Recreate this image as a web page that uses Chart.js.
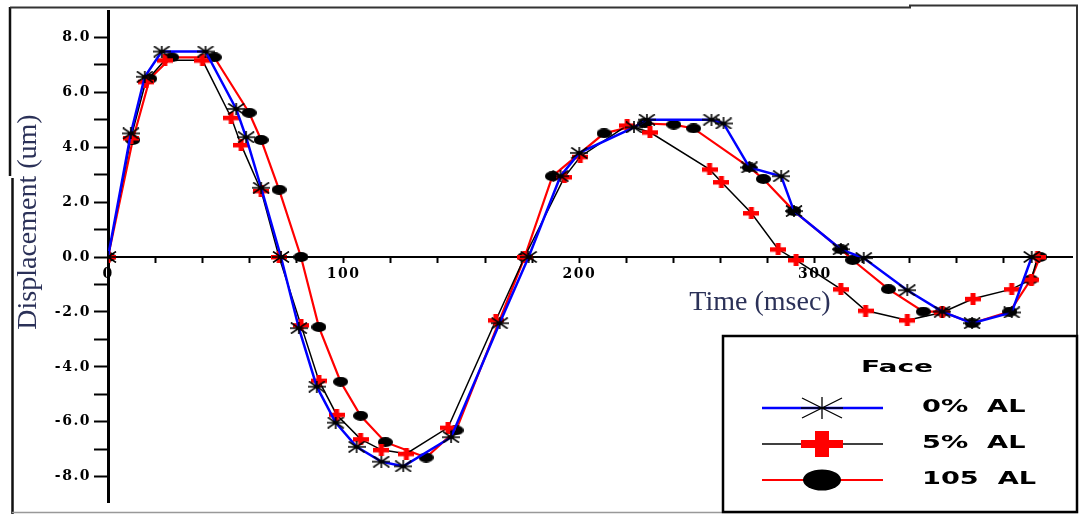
<!DOCTYPE html>
<html><head><meta charset="utf-8">
<script src="https://cdn.jsdelivr.net/npm/chart.js@4.4.1/dist/chart.umd.min.js"></script>
<style>html,body{margin:0;padding:0;background:#fff;} canvas{display:block;}</style>
</head><body>
<canvas id="c" width="1081" height="514"></canvas>
<script>
// ---------- data ----------
const seriesLabels = ['0% AL', '5% AL', '105 AL'];
const legendTitle = 'Face';
const xTitle = 'Time (msec)';
const yTitle = 'Displacement (um)';

const time0 = [0, 9.7, 15.6, 22.8, 41.4, 54.4, 58.6, 65.0, 73.4, 81.0, 88.6, 96.6, 105.5, 116.0, 125.3, 145.6, 166.2, 178.5, 192.0, 200.0, 223.2, 228.7, 256.1, 261.2, 272.2, 285.7, 291.1, 311.0, 320.7, 339.2, 354.0, 366.7, 383.5, 392.0];
const disp0 = [0, 4.50, 6.56, 7.48, 7.48, 5.39, 4.36, 2.52, 0, -2.59, -4.72, -6.03, -6.91, -7.45, -7.62, -6.56, -2.41, 0, 2.94, 3.79, 4.72, 5.00, 5.00, 4.86, 3.26, 2.94, 1.67, 0.28, -0.04, -1.21, -1.99, -2.41, -2.02, 0];

const time5 = [0, 9.7, 16.0, 24.1, 40.1, 52.3, 56.5, 65.0, 72.6, 81.9, 89.5, 97.0, 107.2, 116.0, 126.6, 144.3, 164.6, 176.8, 193.7, 200.4, 220.3, 230.0, 255.3, 260.3, 273.0, 284.4, 292.0, 311.0, 321.5, 339.2, 354.0, 367.1, 383.5, 391.8, 394.5];
const disp5 = [0, 4.33, 6.38, 7.16, 7.16, 5.07, 4.08, 2.41, 0, -2.48, -4.50, -5.74, -6.63, -7.02, -7.16, -6.21, -2.30, 0, 2.91, 3.65, 4.79, 4.54, 3.19, 2.73, 1.60, 0.28, -0.11, -1.17, -1.95, -2.30, -2.02, -1.52, -1.17, -0.82, 0];

const time105 = [0, 10.5, 17.7, 27.0, 45.1, 59.9, 65.0, 72.6, 81.9, 89.5, 98.7, 107.2, 117.7, 135.0, 147.7, 176.8, 188.6, 210.5, 227.8, 240.1, 248.5, 272.2, 278.1, 291.1, 311.0, 316.0, 331.2, 346.0, 354.0, 366.7, 382.7, 391.6, 395.5];
const disp105 = [0, 4.26, 6.49, 7.27, 7.27, 5.25, 4.26, 2.45, 0, -2.55, -4.54, -5.78, -6.74, -7.30, -6.31, 0, 2.94, 4.50, 4.86, 4.82, 4.68, 3.26, 2.84, 1.67, 0.28, -0.11, -1.17, -1.99, -1.99, -2.41, -1.99, -0.82, 0];

const xTickLabels = [0, 100, 200, 300, 400];
const yTickLabels = [-8, -6, -4, -2, 0, 2, 4, 6, 8];

// ---------- marker images ----------
function makeCanvas(w, h, fn) {
  const c = document.createElement('canvas'); c.width = w; c.height = h;
  fn(c.getContext('2d')); return c;
}
const starImg = makeCanvas(18, 12, g => {
  g.strokeStyle = '#000'; g.lineWidth = 1.6;
  g.beginPath();
  g.moveTo(0, 6); g.lineTo(18, 6);
  g.moveTo(9, 0); g.lineTo(9, 12);
  g.moveTo(1, 0.5); g.lineTo(17, 11.5);
  g.moveTo(1, 11.5); g.lineTo(17, 0.5);
  g.stroke();
});
const crossImg = makeCanvas(16, 12, g => {
  g.fillStyle = '#ff0000';
  g.fillRect(0, 4, 16, 4.5);
  g.fillRect(5.5, 0, 5, 12);
});
const circImg = makeCanvas(15, 10, g => {
  g.fillStyle = '#000';
  g.beginPath(); g.ellipse(7.5, 5, 7.5, 5, 0, 0, Math.PI * 2); g.fill();
});

function pts(t, v) { return t.map((x, i) => ({x: x, y: v[i]})); }

const markerKinds = ['star', 'cross', 'circle'];

// ---------- plugin: frame, titles, legend ----------
function stretchedText(ctx, text, x, y, font, sx, align) {
  ctx.save();
  ctx.translate(x, y); ctx.scale(sx, 1);
  ctx.font = font; ctx.textAlign = align; ctx.textBaseline = 'middle';
  ctx.fillStyle = '#000';
  ctx.fillText(text, 0, 0);
  ctx.restore();
}

const decor = {
  id: 'decor',
  beforeDraw(chart) {
    chart.ctx.letterSpacing = '1.5px';
  },
  afterDraw(chart) {
    const ctx = chart.ctx;
    ctx.save();
    ctx.letterSpacing = '0px';
    // outer frame
    ctx.strokeStyle = '#111'; ctx.lineWidth = 2.5;
    ctx.beginPath();
    ctx.moveTo(10, 7); ctx.lineTo(10, 176);
    ctx.moveTo(12.5, 178); ctx.lineTo(12.5, 514);
    ctx.stroke();
    ctx.lineWidth = 2; ctx.strokeStyle = '#333';
    ctx.beginPath();
    ctx.moveTo(10, 7.5); ctx.lineTo(910, 7.5); ctx.lineTo(910, 5.5); ctx.lineTo(1077, 5.5); ctx.lineTo(1077, 512);
    ctx.stroke();
    ctx.strokeStyle = '#999'; ctx.lineWidth = 1.5;
    ctx.beginPath(); ctx.moveTo(12, 512.5); ctx.lineTo(1078, 512.5); ctx.stroke();

    // axis titles
    ctx.fillStyle = '#2b3158';
    ctx.font = '28px "Liberation Serif"';
    ctx.textBaseline = 'middle';
    ctx.textAlign = 'center';
    ctx.fillText(xTitle, 760, 303);
    ctx.save();
    ctx.translate(29, 222); ctx.rotate(-Math.PI / 2);
    ctx.fillText(yTitle, 0, 0);
    ctx.restore();

    // legend box
    ctx.fillStyle = '#fff';
    ctx.fillRect(723, 336, 354, 176);
    ctx.strokeStyle = '#000'; ctx.lineWidth = 2.5;
    ctx.strokeRect(723, 336, 354, 176);
    stretchedText(ctx, legendTitle, 897, 368, 'bold 16px "DejaVu Sans"', 1.75, 'center');
    const rows = [408, 444, 480];
    chart.data.datasets.forEach((ds, i) => {
      const y = rows[i];
      ctx.strokeStyle = ds.borderColor; ctx.lineWidth = ds.borderWidth;
      ctx.beginPath(); ctx.moveTo(762, y); ctx.lineTo(883, y); ctx.stroke();
      const cx = 822;
      const kind = markerKinds[i];
      if (kind === 'star') {
        ctx.strokeStyle = '#000'; ctx.lineWidth = 1.3;
        ctx.beginPath();
        ctx.moveTo(cx - 21, y); ctx.lineTo(cx + 21, y);
        ctx.moveTo(cx, y - 11); ctx.lineTo(cx, y + 11);
        ctx.moveTo(cx - 20, y - 10); ctx.lineTo(cx + 20, y + 10);
        ctx.moveTo(cx - 20, y + 10); ctx.lineTo(cx + 20, y - 10);
        ctx.stroke();
      } else if (kind === 'cross') {
        ctx.fillStyle = '#ff0000';
        ctx.fillRect(cx - 21, y - 4, 42, 8);
        ctx.fillRect(cx - 7, y - 13, 14, 26);
      } else {
        ctx.fillStyle = '#000';
        ctx.beginPath(); ctx.ellipse(cx, y, 19, 10.5, 0, 0, Math.PI * 2); ctx.fill();
      }
      const lbl = ds.label.replace(' ', '  ');
      stretchedText(ctx, lbl, 922, y, 'bold 17px "DejaVu Sans"', 1.6, 'left');
    });
    ctx.restore();
  }
};

function onStep(step) {
  return function (scale) {
    scale.ticks = scale.ticks.filter(t => Math.abs(t.value / step - Math.round(t.value / step)) < 1e-6);
  };
}

const tickFont = {family: '"DejaVu Serif"', size: 14, weight: 'bold'};

new Chart(document.getElementById('c'), {
  type: 'line',
  data: {
    datasets: [
      {label: seriesLabels[0], data: pts(time0, disp0), borderColor: '#0000ff', borderWidth: 2.5,
       pointStyle: starImg, pointRadius: 6, tension: 0},
      {label: seriesLabels[1], data: pts(time5, disp5), borderColor: '#000000', borderWidth: 1.5,
       pointStyle: crossImg, pointRadius: 6, tension: 0},
      {label: seriesLabels[2], data: pts(time105, disp105), borderColor: '#ff0000', borderWidth: 2.2,
       pointStyle: circImg, pointRadius: 6, tension: 0}
    ]
  },
  options: {
    responsive: false,
    animation: false,
    layout: {padding: {left: 10, top: 8, right: 3, bottom: 2}},
    plugins: {legend: {display: false}, tooltip: {enabled: false}},
    scales: {
      x: {
        type: 'linear', min: 0, max: 409.3,
        position: {y: 0},
        afterBuildTicks: onStep(20),
        ticks: {
          stepSize: 20, autoSkip: false, maxRotation: 0, color: '#000', font: tickFont, padding: 4,
          callback: v => xTickLabels.includes(Math.round(v)) && Math.abs(v - Math.round(v)) < 1e-6 ? String(Math.round(v)) : ''
        },
        grid: {drawOnChartArea: false, drawTicks: true, tickLength: 5, tickColor: '#000', tickWidth: 2},
        border: {display: true, color: '#000', width: 2}
      },
      y: {
        type: 'linear', min: -8.94, max: 8.94,
        afterBuildTicks: onStep(1),
        afterFit: s => { s.width = 98; },
        ticks: {
          stepSize: 1, autoSkip: false, color: '#000', font: tickFont, padding: 3,
          callback: v => {
            const r = Math.round(v);
            return yTickLabels.includes(r) && Math.abs(v - r) < 1e-6 ? r.toFixed(1) : '';
          }
        },
        grid: {drawOnChartArea: false, drawTicks: true, tickLength: 14, tickColor: '#000', tickWidth: 2},
        border: {display: true, color: '#000', width: 3}
      }
    }
  },
  plugins: [decor]
});
</script>
</body></html>
